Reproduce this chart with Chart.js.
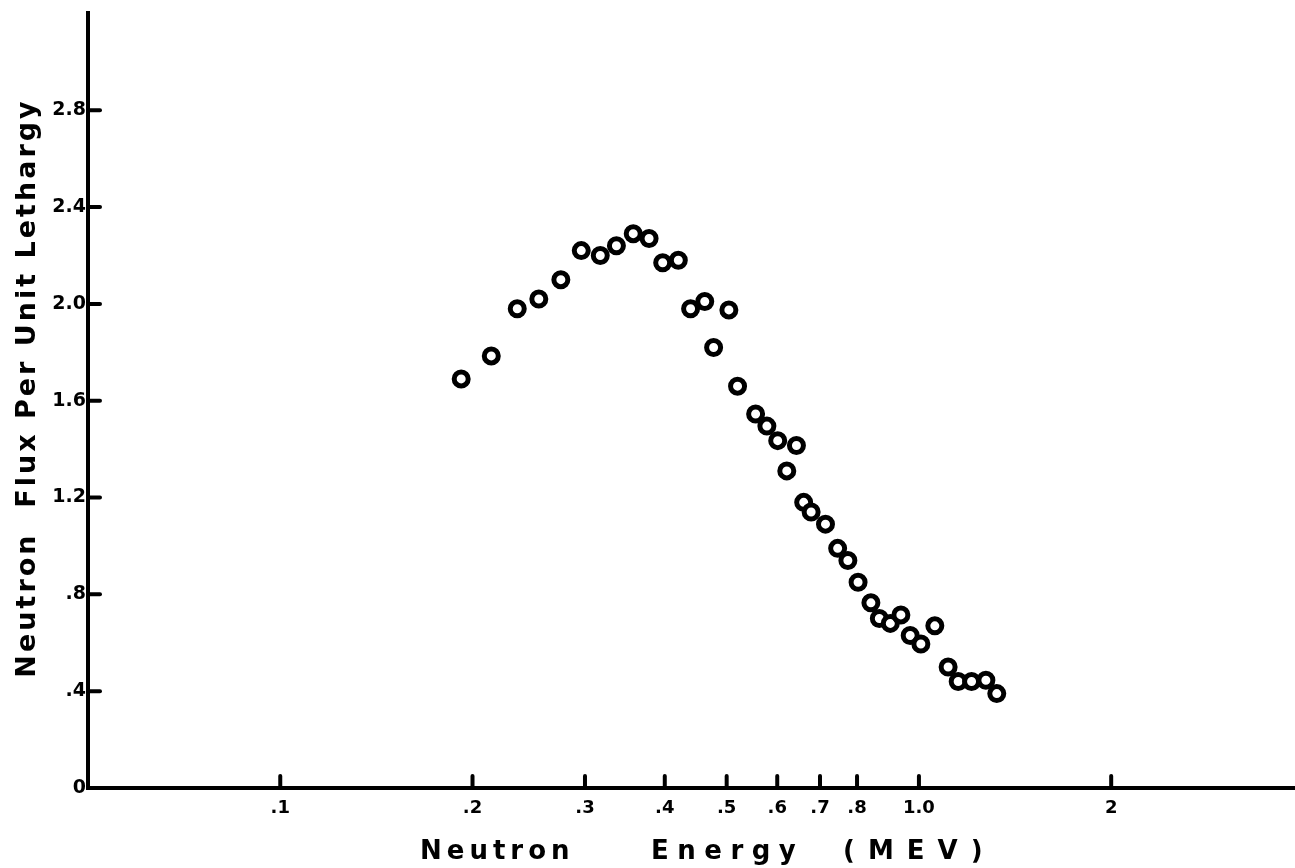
<!DOCTYPE html>
<html>
<head>
<meta charset="utf-8">
<script src="https://cdn.jsdelivr.net/npm/chart.js@4.4.1/dist/chart.umd.min.js"></script>
<style>
  html, body { margin: 0; padding: 0; background: #fff; }
  #wrap { width: 1295px; height: 868px; }
</style>
</head>
<body>
<div id="wrap"><canvas id="chart"></canvas></div>
<script>
// neutron energy (MeV) and flux per unit lethargy
const energy = [0.192, 0.214, 0.235, 0.254, 0.275, 0.296, 0.317, 0.336, 0.357, 0.378,
  0.397, 0.420, 0.439, 0.462, 0.504, 0.477, 0.520, 0.555, 0.578, 0.601,
  0.643, 0.621, 0.660, 0.678, 0.714, 0.746, 0.774, 0.803, 0.841, 0.867,
  0.902, 0.937, 0.969, 1.007, 1.059, 1.111, 1.152, 1.209, 1.273, 1.324]
const flux = [1.69, 1.785, 1.98, 2.02, 2.10, 2.22, 2.20, 2.24, 2.29, 2.27,
  2.17, 2.18, 1.98, 2.01, 1.975, 1.82, 1.66, 1.545, 1.495, 1.435,
  1.415, 1.31, 1.18, 1.14, 1.09, 0.99, 0.94, 0.85, 0.765, 0.70,
  0.68, 0.715, 0.63, 0.595, 0.67, 0.50, 0.44, 0.44, 0.445, 0.39]

const xTicks = [0.1, 0.2, 0.3, 0.4, 0.5, 0.6, 0.7, 0.8, 1.0, 2]
const xTickLabels = ['.1', '.2', '.3', '.4', '.5', '.6', '.7', '.8', '1.0', '2']
const yTicks = [0, 0.4, 0.8, 1.2, 1.6, 2.0, 2.4, 2.8]
const yTickLabels = ['0', '.4', '.8', '1.2', '1.6', '2.0', '2.4', '2.8']

const xTitleWords = ['Neutron', 'Energy', '(MEV)']
const yTitle = 'Neutron  Flux Per Unit Lethargy'

const FONT = '"DejaVu Sans", "Liberation Sans", sans-serif'

const points = energy.map((e, i) => ({ x: e, y: flux[i] }))

// short inward tick marks and the axis titles
const axisDecor = {
  id: 'axisDecor',
  afterDraw(chart) {
    const { ctx, chartArea, scales } = chart
    ctx.save()
    ctx.strokeStyle = '#000'
    ctx.lineWidth = 4
    ctx.lineCap = 'round'
    xTicks.forEach(v => {
      const px = scales.x.getPixelForValue(v)
      ctx.beginPath()
      ctx.moveTo(px, chartArea.bottom)
      ctx.lineTo(px, chartArea.bottom - 12)
      ctx.stroke()
    })
    yTicks.slice(1).forEach(v => {
      const py = scales.y.getPixelForValue(v)
      ctx.beginPath()
      ctx.moveTo(chartArea.left, py)
      ctx.lineTo(chartArea.left + 12, py)
      ctx.stroke()
    })

    ctx.fillStyle = '#000'
    ctx.font = 'bold 26px ' + FONT
    ctx.textAlign = 'left'
    ctx.textBaseline = 'alphabetic'
    const starts = [420, 651, 843]
    const spacing = ['5px', '8.5px', '13px']
    xTitleWords.forEach((w, i) => {
      ctx.letterSpacing = spacing[i]
      ctx.fillText(w, starts[i], 859)
    })

    ctx.translate(35, 388)
    ctx.rotate(-Math.PI / 2)
    ctx.letterSpacing = '3px'
    ctx.textAlign = 'center'
    ctx.font = 'bold 27px ' + FONT
    ctx.fillText(yTitle, 0, 0)
    ctx.restore()
  }
}

new Chart(document.getElementById('chart'), {
  type: 'scatter',
  data: {
    datasets: [
      {
        data: points,
        pointRadius: 7,
        pointBorderWidth: 5,
        pointBorderColor: '#000',
        pointBackgroundColor: '#fff',
        pointHoverRadius: 7,
      },
      {
        data: points,
        pointRadius: 2.5,
        pointBorderWidth: 0,
        pointBorderColor: '#000',
        pointBackgroundColor: '#000',
        pointHoverRadius: 2.5,
      },
    ],
  },
  options: {
    responsive: true,
    maintainAspectRatio: false,
    animation: false,
    layout: { autoPadding: false, padding: { top: 12, right: 0, left: 0, bottom: 0 } },
    plugins: {
      legend: { display: false },
      tooltip: { enabled: false },
    },
    scales: {
      x: {
        type: 'logarithmic',
        min: 0.05,
        max: 3.88,
        afterBuildTicks: s => { s.ticks = xTicks.map(v => ({ value: v })) },
        afterFit: s => { s.height = 80; s.paddingRight = 0; s.paddingLeft = 0 },
        ticks: {
          autoSkip: false,
          maxRotation: 0,
          padding: 10,
          color: '#000',
          font: { family: FONT, size: 18, weight: 'bold' },
          callback: (v, i) => xTickLabels[i],
        },
        grid: { display: false, drawTicks: false },
        border: { display: true, color: '#000', width: 4 },
      },
      y: {
        type: 'linear',
        min: 0,
        max: 3.2,
        afterBuildTicks: s => { s.ticks = yTicks.map(v => ({ value: v })) },
        afterFit: s => { s.width = 88 },
        ticks: {
          autoSkip: false,
          padding: 2,
          color: '#000',
          font: { family: FONT, size: 19, weight: 'bold' },
          callback: (v, i) => yTickLabels[i],
        },
        grid: { display: false, drawTicks: false },
        border: { display: true, color: '#000', width: 4 },
      },
    },
  },
  plugins: [axisDecor],
})
</script>
</body>
</html>
